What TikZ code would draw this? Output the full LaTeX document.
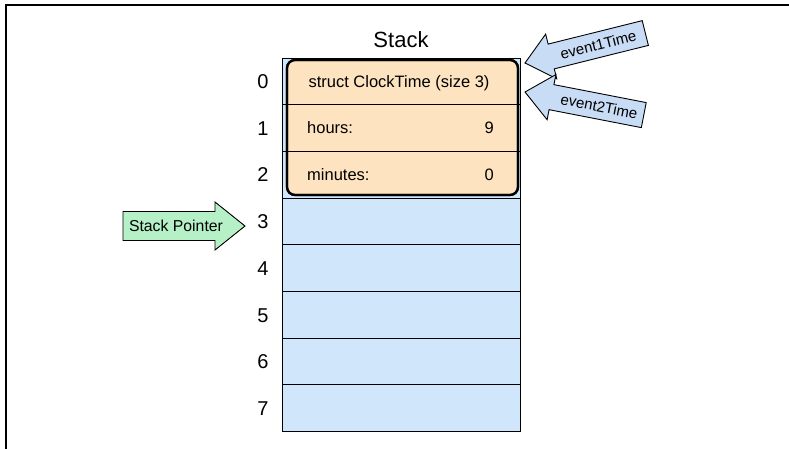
\documentclass[tikz,border=0pt]{standalone}
\usepackage{fontspec}
\setmainfont{Liberation Sans}
\definecolor{cellblue}{HTML}{D0E6FA}
\definecolor{structfill}{HTML}{FDE3C0}
\definecolor{spgreen}{HTML}{B5F0C6}
\definecolor{evblue}{HTML}{C9DCF5}
\begin{document}
\begin{tikzpicture}[x=1pt,y=-1pt,
  cell/.style={draw=black, fill=cellblue, line width=0.9pt, minimum width=238pt, minimum height=46.7pt, inner sep=0pt, outer sep=0pt},
  idx/.style={font=\fontsize{20}{20}\selectfont, inner sep=0pt, anchor=base},
  body/.style={font=\fontsize{16.5}{16.5}\selectfont, inner sep=0pt, anchor=base},
  arrowshape/.style={draw=black, line width=0.9pt, line join=miter},
  evtext/.style={font=\fontsize{15}{15}\selectfont, inner sep=0pt}]
\useasboundingbox (0,0) rectangle (789,448);
% frame
\draw[line width=2.5pt] (6,449) -- (6,5) -- (790,5);
% title
\node[font=\fontsize{22}{22}\selectfont, inner sep=0pt, anchor=base] (title) at (401,47.5) {Stack};
% cells and indices
\foreach \i in {0,...,7} {
  \node[cell] (c\i) at (401,{58+46.7*(\i+0.5)}) {};
  \node[idx] (l\i) at (263,{58+46.7*(\i+0.5)+7.2}) {\i};
}
% struct
\node[draw=black, line width=2.2pt, rounded corners=8pt, fill=structfill, minimum width=231pt, minimum height=135pt, inner sep=0pt] (st) at (402.5,127.5) {};
\draw[line width=0.9pt] (st.west |- c0.south) -- (st.east |- c0.south);
\draw[line width=0.9pt] (st.west |- c1.south) -- (st.east |- c1.south);
\node[draw=black, line width=2.2pt, rounded corners=8pt, minimum width=231pt, minimum height=135pt, inner sep=0pt] (stb) at (402.5,127.5) {};
\node[body, anchor=base] (t0) at (399,{58+46.7*0.5+5.9}) {struct ClockTime (size 3)};
\node[body, anchor=base west] (t1) at (307,{58+46.7*1.5+5.9}) {hours:};
\node[body, anchor=base east] (v1) at (494,{58+46.7*1.5+5.9}) {9};
\node[body, anchor=base west] (t2) at (307,{58+46.7*2.5+5.9}) {minutes:};
\node[body, anchor=base east] (v2) at (494,{58+46.7*2.5+5.9}) {0};
% stack pointer arrow
\draw[arrowshape, fill=spgreen] (123,211.5) -- (215,211.5) -- (215,202) -- (245,226) -- (215,250) -- (215,240.5) -- (123,240.5) -- cycle;
\node[font=\fontsize{15.8}{15.8}\selectfont, inner sep=0pt, anchor=base] (sp) at (176,231.6) {Stack Pointer};
% event1Time arrow
\begin{scope}[shift={(525,63)}, rotate=14]
  \draw[arrowshape, fill=evblue] (0,0) -- (27,-23) -- (27,-12.75) -- (124,-12.75) -- (124,12.75) -- (27,12.75) -- (27,23) -- cycle;
  \node[evtext, rotate=14] (e1) at (75.5,0) {event1Time};
\end{scope}
% event2Time arrow
\begin{scope}[shift={(525,92)}, rotate=-11]
  \draw[arrowshape, fill=evblue] (0,0) -- (27,-23) -- (27,-12.75) -- (121,-12.75) -- (121,12.75) -- (27,12.75) -- (27,23) -- cycle;
  \node[evtext, rotate=-11] (e2) at (75.5,0) {event2Time};
\end{scope}
\end{tikzpicture}
\end{document}
